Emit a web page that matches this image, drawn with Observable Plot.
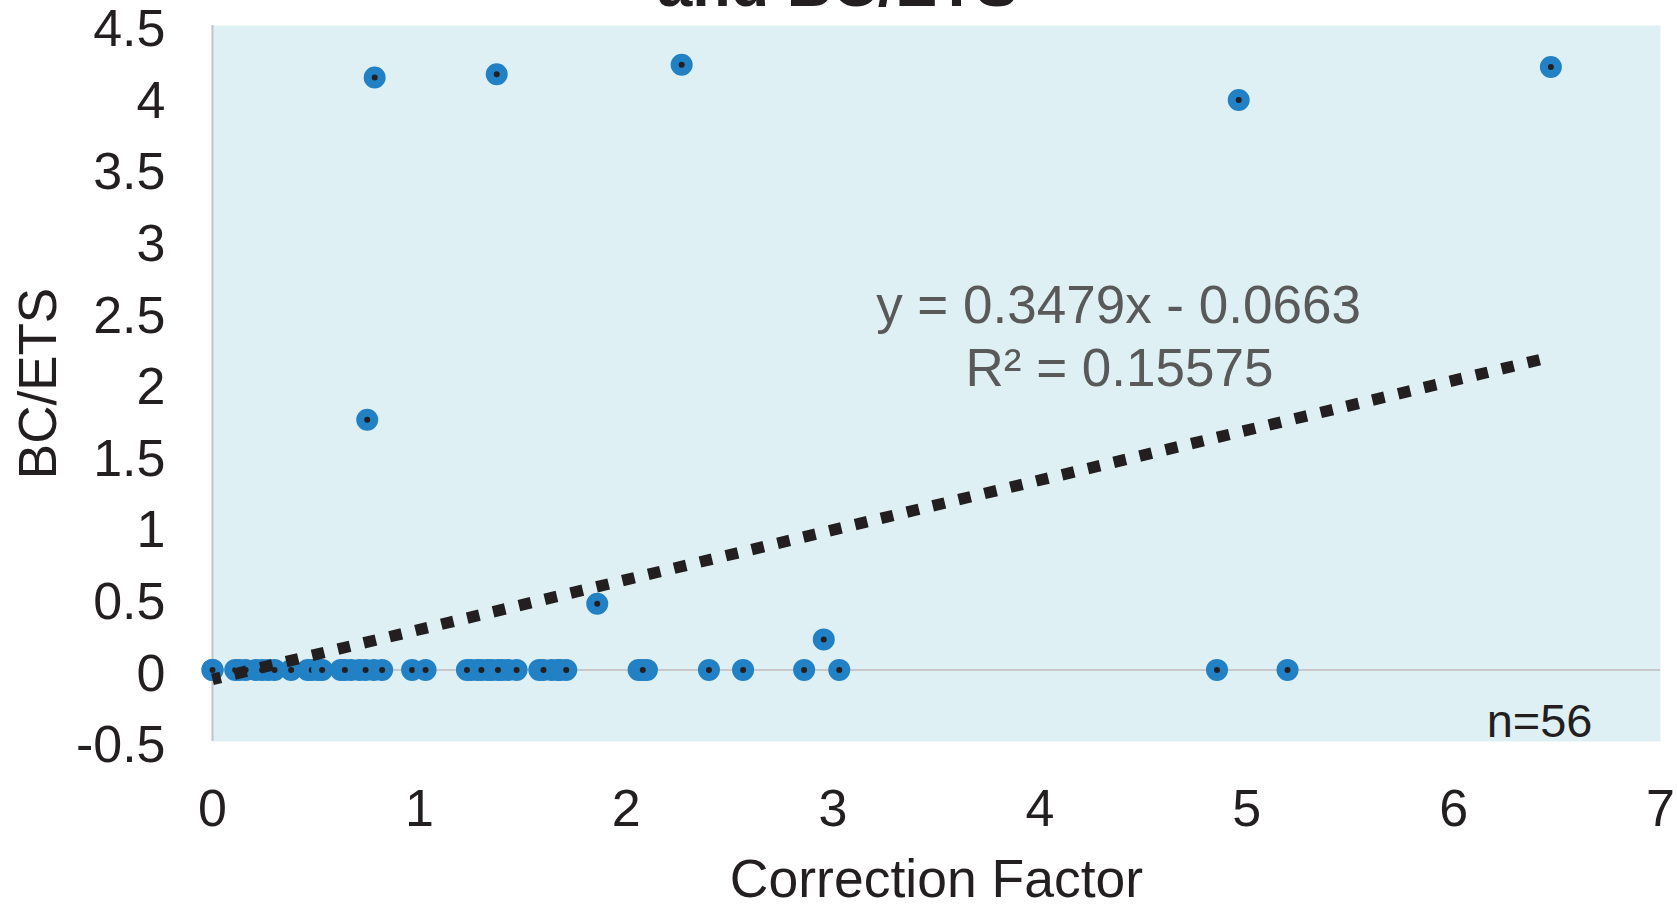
<!DOCTYPE html>
<html><head><meta charset="utf-8">
<script src="https://cdn.jsdelivr.net/npm/d3@7"></script>
<script src="https://cdn.jsdelivr.net/npm/@observablehq/plot@0.6"></script>
<style>html,body{margin:0;padding:0;background:#fff;overflow:hidden}</style>
</head><body><div id="chart"></div>
<script>
// Correction Factor (x) and BC/ETS (y), n = 56 (in drawing order)
const correctionFactor = [
  0, 0.13, 0.21, 0.27, 0.46, 0.51, 0.62, 0.67, 0.71, 0.78,
  1.25, 1.28, 1.33, 1.35, 1.40, 1.43, 1.58, 1.64, 1.67, 1.68, 2.06, 2.10,
  0, 0.11, 0.16, 0.24, 0.30, 0.38, 0.48, 0.53, 0.64, 0.74, 0.82, 0.965, 1.03,
  1.23, 1.30, 1.38, 1.47, 1.60, 1.71, 2.08, 2.40, 2.565, 2.86, 3.03, 4.856, 5.197,
  0.784, 1.374, 2.268, 4.961, 6.47, 0.748, 1.86, 2.955
];
const bcEts = [
  0, 0, 0, 0, 0, 0, 0, 0, 0, 0,
  0, 0, 0, 0, 0, 0, 0, 0, 0, 0, 0, 0,
  0, 0, 0, 0, 0, 0, 0, 0, 0, 0, 0, 0, 0,
  0, 0, 0, 0, 0, 0, 0, 0, 0, 0, 0, 0, 0,
  4.137, 4.159, 4.226, 3.98, 4.21, 1.747, 0.462, 0.213
];
const xTicks = [0, 1, 2, 3, 4, 5, 6, 7];
const yTicks = [-0.5, 0, 0.5, 1, 1.5, 2, 2.5, 3, 3.5, 4, 4.5];
const trendSlope = 0.3479;
const trendIntercept = -0.0663;
const equationLabel = "y = 0.3479x - 0.0663";
const r2Label = "R\u00b2 = 0.15575";
const nLabel = "n=56";
const titleLabel = "and BC/ETS";
const xLabel = "Correction Factor";
const yLabel = "BC/ETS";

const points = correctionFactor.map((x, i) => ({x, y: bcEts[i]}));
const xMin = d3.min(correctionFactor), xMax = d3.max(correctionFactor);
const trend = [xMin, xMax].map(x => ({x, y: trendSlope * x + trendIntercept}));

const font = "'Liberation Sans', Arial, Helvetica, sans-serif";
const ink = "#231f20";

const chart = Plot.plot({
  width: 1677, height: 906,
  marginLeft: 212, marginRight: 17, marginTop: 25, marginBottom: 165,
  style: {fontFamily: font, fontSize: "52px", color: ink, background: "#fff"},
  x: {domain: [0, 7]},
  y: {domain: [-0.5, 4.5]},
  marks: [
    Plot.frame({fill: "#dff0f4", stroke: null}),
    Plot.ruleY([0], {stroke: "#c8c8ca", strokeWidth: 2}),
    Plot.ruleX([0], {stroke: "#c4c4c6", strokeWidth: 2}),
    Plot.axisX({ticks: xTicks, tickSize: 0, tickPadding: 48, tickFormat: d => String(d), label: null, fontSize: 52}),
    Plot.axisY({ticks: yTicks, tickSize: 0, tickPadding: 47, tickFormat: d => String(d), label: null, dy: 4, fontSize: 52}),
    // each marker: black centre with a blue ring, drawn one after another
    Plot.dot(points, {x: "x", y: "y", r: 7, fill: ink, stroke: "#2181c4", strokeWidth: 8}),
    Plot.line(trend, {x: "x", y: "y", stroke: ink, strokeWidth: 11.5, strokeLinecap: "butt", strokeLinejoin: "miter", strokeDasharray: "12.5,14.1", strokeDashoffset: 4}),
    Plot.text([equationLabel], {frameAnchor: "top-left", dx: 906, dy: 297, text: d => d, textAnchor: "middle", lineAnchor: "bottom", fontSize: 53, fill: "#595959"}),
    Plot.text([r2Label], {frameAnchor: "top-left", dx: 907, dy: 360, text: d => d, textAnchor: "middle", lineAnchor: "bottom", fontSize: 53, fill: "#595959"}),
    Plot.text([nLabel], {frameAnchor: "bottom-right", dx: -68, dy: -5, text: d => d, textAnchor: "end", lineAnchor: "bottom", fontSize: 47, fill: ink}),
    Plot.text([xLabel], {frameAnchor: "bottom", dy: 155, text: d => d, textAnchor: "middle", lineAnchor: "bottom", fontSize: 53.5, fill: ink}),
    Plot.text([yLabel], {frameAnchor: "left", dx: -157, rotate: -90, text: d => d, textAnchor: "middle", lineAnchor: "bottom", fontSize: 53, fill: ink}),
    Plot.text([titleLabel], {frameAnchor: "top", dx: -99, dy: -20, text: d => d, textAnchor: "middle", lineAnchor: "bottom", fontSize: 63, fontWeight: "bold", fill: ink})
  ]
});
document.getElementById("chart").appendChild(chart);
</script>
</body></html>
